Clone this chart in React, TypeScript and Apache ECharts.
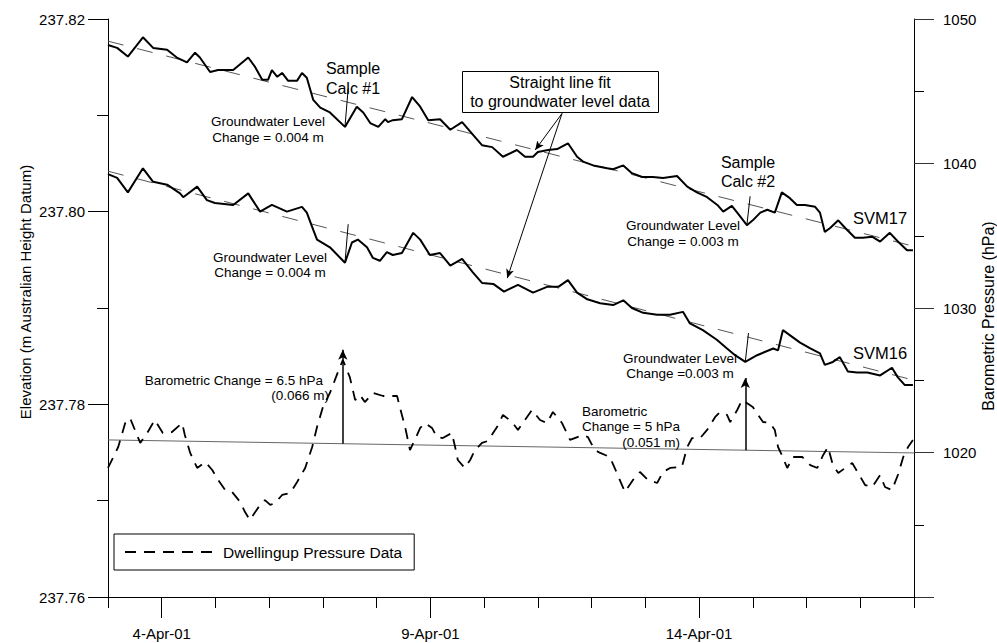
import { useEffect, useRef } from 'react';
import * as echarts from 'echarts';

const FONT = '"Liberation Sans", Arial, Helvetica, sans-serif';

// x values are days of April 2001 (fractional)
const dayLabelTicks = [4, 9, 14];

// Groundwater level, bore SVM17 (m AHD)
const svm17: [number, number][] = [
  [3.0, 237.8173], [3.17, 237.817], [3.37, 237.8161], [3.65, 237.8181], [3.84, 237.817], [4.1, 237.8168],
  [4.28, 237.816], [4.47, 237.8155], [4.62, 237.8165], [4.71, 237.816], [4.9, 237.8145], [5.05, 237.8147],
  [5.33, 237.8147], [5.61, 237.816], [5.74, 237.815], [5.87, 237.8137], [5.98, 237.8137], [6.05, 237.8147],
  [6.15, 237.814], [6.24, 237.8144], [6.35, 237.8136], [6.52, 237.8136], [6.61, 237.8144], [6.7, 237.8139],
  [6.82, 237.8116], [6.95, 237.8108], [7.13, 237.8103], [7.41, 237.8088], [7.63, 237.8109], [7.75, 237.8103],
  [7.88, 237.8092], [8.03, 237.8088], [8.16, 237.8096], [8.21, 237.8093], [8.3, 237.8095], [8.47, 237.8096],
  [8.66, 237.8119], [8.81, 237.8109], [8.96, 237.8095], [9.18, 237.8096], [9.37, 237.8085], [9.59, 237.8093],
  [9.79, 237.808], [9.96, 237.8069], [10.15, 237.8067], [10.35, 237.8057], [10.61, 237.8064], [10.76, 237.8057],
  [10.91, 237.8057], [11.0, 237.8062], [11.19, 237.8064], [11.36, 237.8065], [11.56, 237.8071], [11.73, 237.8057],
  [11.84, 237.8052], [12.03, 237.8048], [12.29, 237.8045], [12.4, 237.8044], [12.59, 237.8048], [12.75, 237.804],
  [12.94, 237.8036], [13.14, 237.8036], [13.33, 237.8035], [13.59, 237.8037], [13.78, 237.8026], [13.96, 237.802],
  [14.15, 237.8015], [14.34, 237.8007], [14.45, 237.8], [14.61, 237.8006], [14.71, 237.7999], [14.89, 237.7986],
  [15.0, 237.7991], [15.14, 237.7999], [15.27, 237.8002], [15.41, 237.7999], [15.54, 237.802], [15.69, 237.8014],
  [15.82, 237.8007], [15.97, 237.8007], [16.16, 237.8005], [16.25, 237.7999], [16.34, 237.7979], [16.44, 237.7983],
  [16.59, 237.7991], [16.72, 237.7983], [16.9, 237.7973], [17.05, 237.7973], [17.22, 237.7974], [17.37, 237.7969],
  [17.55, 237.7978], [17.7, 237.7969], [17.87, 237.796], [17.98, 237.796],
];

// Groundwater level, bore SVM16 (m AHD)
const svm16: [number, number][] = [
  [3.0, 237.8039], [3.17, 237.8035], [3.37, 237.802], [3.65, 237.8045], [3.84, 237.8031], [4.1, 237.8028],
  [4.34, 237.8019], [4.4, 237.8015], [4.66, 237.8026], [4.84, 237.8012], [4.99, 237.8009], [5.33, 237.8007],
  [5.61, 237.8019], [5.83, 237.8], [6.05, 237.8007], [6.33, 237.8], [6.61, 237.8005], [6.7, 237.7999],
  [6.82, 237.7981], [6.89, 237.7971], [7.13, 237.7963], [7.41, 237.7947], [7.54, 237.7968], [7.65, 237.7971],
  [7.82, 237.7963], [7.93, 237.7952], [8.06, 237.7949], [8.19, 237.7958], [8.3, 237.7955], [8.47, 237.7957],
  [8.68, 237.7978], [8.81, 237.7971], [8.99, 237.7955], [9.18, 237.7957], [9.37, 237.7944], [9.59, 237.7951],
  [9.79, 237.7937], [9.96, 237.7926], [10.17, 237.7925], [10.37, 237.7917], [10.63, 237.7924], [10.91, 237.7916],
  [11.17, 237.7922], [11.38, 237.7922], [11.56, 237.7929], [11.73, 237.7916], [11.92, 237.7909], [12.16, 237.7905],
  [12.4, 237.7903], [12.59, 237.7908], [12.75, 237.79], [12.96, 237.7895], [13.22, 237.7893], [13.46, 237.7893],
  [13.7, 237.7896], [13.83, 237.7884], [14.07, 237.7877], [14.33, 237.7867], [14.52, 237.7858], [14.67, 237.7851],
  [14.86, 237.7844], [15.08, 237.7851], [15.38, 237.7858], [15.47, 237.7856], [15.56, 237.7877], [15.88, 237.7864],
  [16.07, 237.7858], [16.25, 237.7853], [16.34, 237.7841], [16.49, 237.7844], [16.62, 237.7849], [16.77, 237.7834],
  [16.94, 237.7833], [17.13, 237.7833], [17.37, 237.783], [17.59, 237.7838], [17.7, 237.7828], [17.83, 237.782],
  [17.98, 237.782],
];

// Dwellingup barometric pressure (hPa)
const pressure: [number, number][] = [
  [3.0, 1018.93], [3.19, 1020.38], [3.32, 1022.04], [3.41, 1022.39], [3.6, 1020.66], [3.73, 1021.35],
  [3.87, 1022.25], [4.02, 1021.35], [4.19, 1021.42], [4.38, 1022.04], [4.43, 1021.21], [4.53, 1019.97],
  [4.66, 1018.93], [4.81, 1019.34], [4.94, 1018.79], [5.05, 1018.1], [5.18, 1017.4], [5.31, 1017.27],
  [5.46, 1016.57], [5.55, 1015.88], [5.64, 1015.33], [5.74, 1015.88], [5.83, 1016.37], [5.92, 1016.71],
  [6.02, 1016.37], [6.11, 1016.51], [6.24, 1017.06], [6.39, 1017.2], [6.52, 1017.96], [6.67, 1018.93],
  [6.8, 1020.38], [6.89, 1021.76], [7.0, 1023.15], [7.13, 1024.12], [7.28, 1025.57], [7.37, 1026.4],
  [7.5, 1025.22], [7.6, 1023.63], [7.69, 1023.98], [7.78, 1023.49], [7.93, 1024.12], [8.12, 1023.91],
  [8.38, 1023.91], [8.43, 1023.15], [8.53, 1021.76], [8.62, 1020.17], [8.71, 1020.87], [8.81, 1021.7],
  [8.9, 1022.04], [9.03, 1021.7], [9.12, 1021.07], [9.23, 1021.0], [9.4, 1021.35], [9.46, 1020.38],
  [9.51, 1019.48], [9.64, 1018.93], [9.74, 1019.48], [9.83, 1020.17], [9.96, 1020.66], [10.07, 1020.8],
  [10.24, 1021.76], [10.35, 1022.6], [10.52, 1022.11], [10.63, 1021.56], [10.76, 1022.25], [10.89, 1022.94],
  [11.04, 1022.25], [11.17, 1022.04], [11.28, 1022.8], [11.45, 1022.04], [11.6, 1020.87], [11.84, 1021.21],
  [11.93, 1021.07], [12.06, 1020.17], [12.16, 1019.97], [12.34, 1019.69], [12.47, 1018.58], [12.62, 1017.27],
  [12.77, 1018.1], [12.9, 1018.65], [13.05, 1018.1], [13.22, 1017.89], [13.33, 1018.65], [13.46, 1018.93],
  [13.68, 1019.0], [13.78, 1020.38], [13.87, 1021.0], [14.02, 1021.0], [14.15, 1021.56], [14.3, 1022.46],
  [14.39, 1022.8], [14.52, 1022.6], [14.58, 1022.11], [14.71, 1022.94], [14.8, 1023.63], [15.0, 1023.15],
  [15.1, 1022.6], [15.19, 1022.11], [15.32, 1022.04], [15.41, 1021.56], [15.47, 1020.38], [15.54, 1019.83],
  [15.64, 1018.93], [15.75, 1019.69], [15.92, 1019.69], [16.07, 1019.13], [16.2, 1018.93], [16.31, 1019.83],
  [16.4, 1020.38], [16.49, 1019.13], [16.59, 1018.58], [16.72, 1018.93], [16.85, 1019.27], [16.96, 1018.58],
  [17.09, 1017.75], [17.22, 1017.61], [17.37, 1018.44], [17.46, 1017.61], [17.59, 1017.4], [17.7, 1018.44],
  [17.8, 1019.69], [17.89, 1020.38], [17.98, 1020.87],
];

// Straight-line fits
const fit17: [number, number][] = [[3, 237.8177], [18, 237.7964]];
const fit16: [number, number][] = [[3, 237.8042], [18, 237.7825]];
const pressureTrend: [number, number][] = [[3, 1020.87], [18, 1019.97]];

// Sample calculations: [day, start value, change]
const gwChange17: [number, number, number][] = [[7.41, 237.8088, 0.004], [14.89, 237.7986, 0.003]];
const gwChange16: [number, number, number][] = [[7.41, 237.7947, 0.004], [14.86, 237.7844, 0.003]];
const baroChange: [number, number, number][] = [[7.37, 1020.61, 6.5], [14.86, 1020.16, 5]];

// Callout from the "Straight line fit" box to the two fits
const calloutFrom: [number, number] = [11.45, 237.8102];
const calloutTo: [number, number][] = [[10.95, 237.8064], [10.43, 237.7931]];

const tickLine = (d: number, v: number, c: number) => [
  { coord: [d, v], symbol: 'none' },
  { coord: [d + 0.06, v + c], symbol: 'none' },
];

const txt = (
  text: string,
  x: number,
  y: number,
  size: number,
  align: 'left' | 'center' | 'right' = 'center',
  rotation = 0,
) => ({
  type: 'text',
  x,
  y,
  rotation,
  z: 100,
  silent: true,
  style: {
    text,
    fill: '#000',
    fontSize: size,
    fontFamily: FONT,
    align,
    textAlign: align,
    verticalAlign: 'middle',
    textVerticalAlign: 'middle',
  },
});

export default function App() {
  const ref = useRef<HTMLDivElement>(null);

  useEffect(() => {
    if (!ref.current) return;
    const chart = echarts.init(ref.current, null, { renderer: 'svg' });

    const option: any = {
      animation: false,
      backgroundColor: '#fff',
      color: ['#000'],
      textStyle: { fontFamily: FONT, color: '#000' },
      grid: { left: 108, right: 83, top: 19, bottom: 46 },
      legend: {
        data: ['Dwellingup Pressure Data'],
        left: 114,
        top: 534,
        padding: [10, 12, 10, 10],
        itemWidth: 93,
        itemHeight: 14,
        itemStyle: { opacity: 0 },
        backgroundColor: '#fff',
        borderColor: '#000',
        borderWidth: 1,
        borderRadius: 0,
        selectedMode: false,
        textStyle: { fontSize: 15.5, color: '#000', fontFamily: FONT },
      },
      xAxis: [
        {
          type: 'value',
          position: 'bottom',
          min: 3,
          max: 18,
          interval: 1,
          axisLine: { show: true, onZero: false, lineStyle: { color: '#000', width: 1 } },
          axisTick: { show: true, length: 11, lineStyle: { color: '#000' } },
          axisLabel: { show: false },
          splitLine: { show: false },
        },
        {
          type: 'value',
          position: 'bottom',
          min: 3,
          max: 18,
          axisLine: { show: false, onZero: false },
          axisTick: { show: true, customValues: dayLabelTicks, length: 21, lineStyle: { color: '#000' } },
          axisLabel: {
            customValues: dayLabelTicks,
            formatter: (v: number) => `${v}-Apr-01`,
            margin: 29,
            fontSize: 15,
            color: '#000',
            fontFamily: FONT,
          },
          splitLine: { show: false },
        },
      ],
      yAxis: [
        {
          type: 'value',
          position: 'left',
          min: 237.76,
          max: 237.82,
          interval: 0.02,
          axisLine: { show: true, onZero: false, lineStyle: { color: '#000', width: 1 } },
          axisTick: { show: true, length: 20, lineStyle: { color: '#000' } },
          minorTick: { show: true, splitNumber: 2, length: 11, lineStyle: { color: '#000' } },
          axisLabel: {
            formatter: (v: number) => v.toFixed(2),
            margin: 23,
            fontSize: 15,
            color: '#000',
            fontFamily: FONT,
          },
          splitLine: { show: false },
          minorSplitLine: { show: false },
        },
        {
          type: 'value',
          position: 'right',
          min: 1010,
          max: 1050,
          interval: 10,
          axisLine: { show: true, onZero: false, lineStyle: { color: '#000', width: 1 } },
          axisTick: { show: true, length: 20, lineStyle: { color: '#333' } },
          minorTick: { show: true, splitNumber: 2, length: 10, lineStyle: { color: '#000' } },
          axisLabel: {
            formatter: (v: number) => (v === 1010 ? '' : String(v)),
            margin: 29,
            fontSize: 15,
            color: '#000',
            fontFamily: FONT,
          },
          splitLine: { show: false },
          minorSplitLine: { show: false },
        },
      ],
      series: [
        {
          name: 'SVM17 fit',
          type: 'line',
          data: fit17,
          symbol: 'none',
          silent: true,
          z: 1,
          lineStyle: { color: '#555', width: 1, type: [16, 14] },
        },
        {
          name: 'SVM16 fit',
          type: 'line',
          data: fit16,
          symbol: 'none',
          silent: true,
          z: 1,
          lineStyle: { color: '#555', width: 1, type: [16, 14] },
        },
        {
          name: 'Pressure trend',
          type: 'line',
          data: pressureTrend,
          yAxisIndex: 1,
          symbol: 'none',
          silent: true,
          z: 1,
          lineStyle: { color: '#666', width: 1, type: 'solid' },
        },
        {
          name: 'SVM17',
          type: 'line',
          data: svm17,
          symbol: 'none',
          silent: true,
          z: 3,
          lineStyle: { color: '#000', width: 2 },
          markLine: {
            silent: true,
            symbol: ['none', 'none'],
            label: { show: false },
            lineStyle: { color: '#000', width: 1, type: 'solid' },
            data: [
              ...gwChange17.map(([d, v, c]) => tickLine(d, v, c)),
              ...calloutTo.map((p) => [
                { coord: calloutFrom, symbol: 'none' },
                { coord: p, symbol: 'arrow', symbolSize: [6, 9] },
              ]),
            ],
          },
        },
        {
          name: 'SVM16',
          type: 'line',
          data: svm16,
          symbol: 'none',
          silent: true,
          z: 3,
          lineStyle: { color: '#000', width: 2 },
          markLine: {
            silent: true,
            symbol: ['none', 'none'],
            label: { show: false },
            lineStyle: { color: '#000', width: 1, type: 'solid' },
            data: gwChange16.map(([d, v, c]) => tickLine(d, v, c)),
          },
        },
        {
          name: 'Dwellingup Pressure Data',
          type: 'line',
          data: pressure,
          yAxisIndex: 1,
          symbol: 'none',
          silent: true,
          z: 3,
          itemStyle: { color: '#000' },
          lineStyle: { color: '#000', width: 1.8, type: [11, 8] },
          markLine: {
            silent: true,
            symbol: ['none', 'none'],
            label: { show: false },
            lineStyle: { color: '#000', width: 1.5, type: 'solid' },
            data: baroChange.map(([d, v, c]) => [
              { coord: [d, v], symbol: 'none' },
              { coord: [d, v + c], symbol: 'arrow', symbolSize: [7, 10] },
            ]),
          },
        },
      ],
      graphic: [
        // axis titles
        txt('Elevation (m Australian Height Datum)', 25, 292, 15, 'center', Math.PI / 2),
        txt('Barometric Pressure (hPa)', 988, 316, 16, 'center', Math.PI / 2),
        // sample calculation 1
        txt('Sample', 353, 68, 16),
        txt('Calc #1', 353, 88, 16),
        txt('Groundwater Level', 268, 121, 13.5),
        txt('Change = 0.004 m', 268, 137, 13.5),
        txt('Groundwater Level', 270, 257, 13.5),
        txt('Change = 0.004 m', 270, 272, 13.5),
        // fit callout box
        {
          type: 'rect',
          z: 99,
          silent: true,
          shape: { x: 462.5, y: 71.5, width: 196, height: 41 },
          style: { fill: '#fff', stroke: '#000', lineWidth: 1 },
        },
        txt('Straight line fit', 560, 82, 16),
        txt('to groundwater level data', 560, 101, 16),
        // sample calculation 2
        txt('Sample', 748, 162, 16),
        txt('Calc #2', 748, 181, 16),
        txt('Groundwater Level', 683, 225, 13.5),
        txt('Change = 0.003 m', 683, 241, 13.5),
        txt('Groundwater Level', 680, 358, 13.5),
        txt('Change =0.003 m', 680, 373, 13.5),
        // bore names
        txt('SVM17', 853, 218, 16.5, 'left'),
        txt('SVM16', 853, 353, 16.5, 'left'),
        // barometric changes
        txt('Barometric Change = 6.5 hPa', 323, 380, 13.5, 'right'),
        txt('(0.066 m)', 329, 395, 13.5, 'right'),
        txt('Barometric', 582, 411, 13.5, 'left'),
        txt('Change = 5 hPa', 582, 426, 13.5, 'left'),
        txt('(0.051 m)', 680, 442, 13.5, 'right'),
      ],
    };

    chart.setOption(option);
    return () => chart.dispose();
  }, []);

  return (
    <div
      ref={ref}
      style={{ position: 'fixed', left: 0, top: 0, width: 997, height: 643, background: '#fff' }}
    />
  );
}
